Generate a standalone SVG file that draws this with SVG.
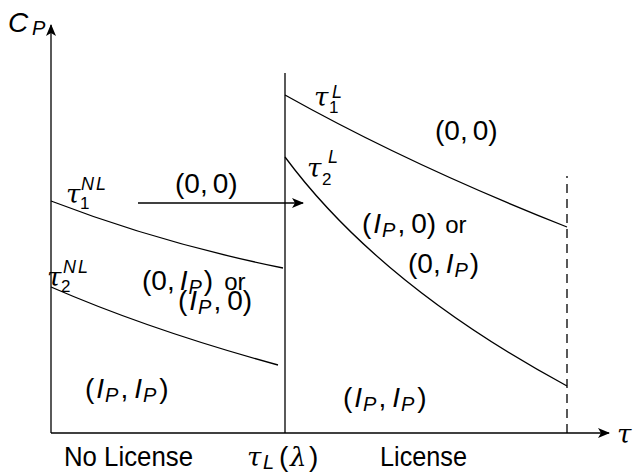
<svg xmlns="http://www.w3.org/2000/svg" width="633" height="473" viewBox="0 0 633 473">
<style>
.ln{fill:none;stroke:#000;stroke-width:1.3}
.t{font-family:"Liberation Sans",sans-serif;font-size:28px;fill:#000}
.o{font-family:"Liberation Sans",sans-serif;font-size:24px;fill:#000}
.m{font-family:"Liberation Sans",sans-serif;font-size:28px;font-style:italic;fill:#000}
.g{font-family:"DejaVu Serif",serif;font-size:26px;font-style:italic;fill:#000}
.s{font-family:"Liberation Sans",sans-serif;font-size:17px;fill:#000}
.si{font-family:"Liberation Sans",sans-serif;font-size:20px;font-style:italic;fill:#000}
.sup{font-family:"Liberation Sans",sans-serif;font-size:18px;font-style:italic;letter-spacing:2px;fill:#000}
</style>
<defs>
<marker id="ah" markerWidth="12" markerHeight="10" refX="11" refY="5" orient="auto" markerUnits="userSpaceOnUse">
<path d="M0,0 L12,5 L0,10 L3,5 Z" fill="#000"/>
</marker>
</defs>
<g id="connectors">
<line class="ln" x1="51" y1="433" x2="51" y2="25" marker-end="url(#ah)"/>
<line class="ln" x1="51" y1="433" x2="609" y2="433" marker-end="url(#ah)"/>
<line class="ln" x1="285" y1="433" x2="285" y2="73"/>
<line class="ln" x1="567" y1="433" x2="567" y2="176" stroke-dasharray="9,6"/>
<line class="ln" x1="138" y1="203" x2="303" y2="203" marker-end="url(#ah)"/>
</g>
<g id="curve-tau1NL"><path class="ln" d="M51,201 Q160,243 283,268"/></g>
<g id="curve-tau2NL"><path class="ln" d="M51,287 Q150,330 278,365"/></g>
<g id="curve-tau1L"><path class="ln" d="M285,95 Q410,165 567,227"/></g>
<g id="curve-tau2L"><path class="ln" d="M285,157 Q380,285 567,386"/></g>
<g id="labels">
<text class="m" x="8" y="32">C</text><text class="si" x="32" y="35">P</text>
<text class="g" x="617" y="443">τ</text>
<text class="g" x="66" y="203">τ</text><text class="s" x="80" y="209">1</text><text class="sup" x="81" y="190">NL</text>
<text class="g" x="47" y="286">τ</text><text class="s" x="61" y="292">2</text><text class="sup" x="63" y="273">NL</text>
<text x="175" y="193"><tspan class="t">(0,</tspan><tspan class="t" dx="5">0)</tspan></text>
<text x="142" y="290"><tspan class="t">(0,</tspan><tspan class="m" dx="5">I</tspan><tspan class="si" dx="1" dy="4">P</tspan><tspan class="t" dx="2" dy="-4">)</tspan><tspan class="o" dx="11">or</tspan></text>
<text x="178" y="310"><tspan class="t">(</tspan><tspan class="m" dx="2">I</tspan><tspan class="si" dx="1" dy="4">P</tspan><tspan class="t" dx="2" dy="-4">,</tspan><tspan class="t" dx="6">0)</tspan></text>
<text x="85" y="398"><tspan class="t">(</tspan><tspan class="m" dx="2">I</tspan><tspan class="si" dx="1" dy="4">P</tspan><tspan class="t" dx="2" dy="-4">,</tspan><tspan class="m" dx="6">I</tspan><tspan class="si" dx="1" dy="4">P</tspan><tspan class="t" dx="3" dy="-4">)</tspan></text>
<text class="g" x="314" y="106">τ</text><text class="s" x="329" y="113">1</text><text class="sup" x="332" y="98">L</text>
<text x="435" y="140"><tspan class="t">(0,</tspan><tspan class="t" dx="5">0)</tspan></text>
<text class="g" x="307" y="177">τ</text><text class="s" x="322" y="185">2</text><text class="sup" x="328" y="163">L</text>
<text x="362" y="233"><tspan class="t">(</tspan><tspan class="m" dx="2">I</tspan><tspan class="si" dx="1" dy="4">P</tspan><tspan class="t" dx="2" dy="-4">,</tspan><tspan class="t" dx="6">0)</tspan><tspan class="o" dx="9">or</tspan></text>
<text x="408" y="273"><tspan class="t">(0,</tspan><tspan class="m" dx="5">I</tspan><tspan class="si" dx="1" dy="4">P</tspan><tspan class="t" dx="2" dy="-4">)</tspan></text>
<text x="343" y="407"><tspan class="t">(</tspan><tspan class="m" dx="2">I</tspan><tspan class="si" dx="1" dy="4">P</tspan><tspan class="t" dx="2" dy="-4">,</tspan><tspan class="m" dx="6">I</tspan><tspan class="si" dx="1" dy="4">P</tspan><tspan class="t" dx="3" dy="-4">)</tspan></text>
<text class="t" x="64" y="466" textLength="129" lengthAdjust="spacingAndGlyphs">No License</text>
<text class="g" x="247" y="466">τ</text><text class="si" x="263" y="469">L</text><text class="t" x="279" y="466">(</text><text class="g" x="290" y="466">λ</text><text class="t" x="309" y="466">)</text>
<text class="t" x="380" y="466" textLength="87" lengthAdjust="spacingAndGlyphs">License</text>
</g>
</svg>
